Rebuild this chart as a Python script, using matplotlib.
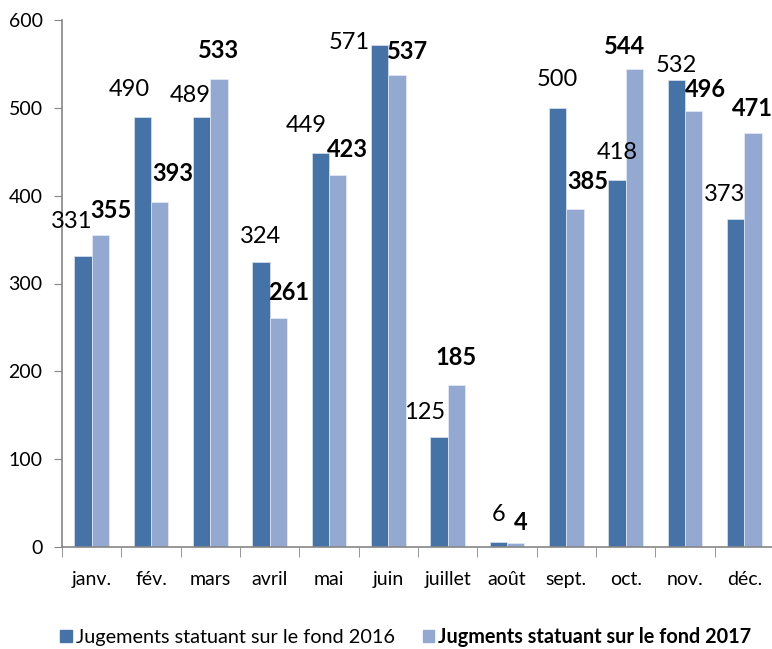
import numpy as np
import matplotlib.pyplot as plt
from matplotlib.patches import Patch

# Data
months = ["janv.", "fév.", "mars", "avril", "mai", "juin",
          "juillet", "août", "sept.", "oct.", "nov.", "déc."]
values_2016 = [331, 490, 489, 324, 449, 571, 125, 6, 500, 418, 532, 373]
values_2017 = [355, 393, 533, 261, 423, 537, 185, 4, 385, 544, 496, 471]
label_2016 = "Jugements statuant sur le fond 2016"
label_2017 = "Jugments statuant sur le fond 2017"
y_ticks = [0, 100, 200, 300, 400, 500, 600]

# Label offsets (pixels) from the top centre of each bar, as placed in the original
offsets_2016 = [(-11, 35), (-13, 27), (-11, 22), (-1, 26), (-14, 27), (-30, 3),
                (-14, 25), (0, 27), (0, 28), (0, 27), (0, 14), (-11, 25)]
offsets_2017 = [(11, 25), (13, 28), (0, 28), (10, 25), (10, 26), (11, 24),
                (0, 27), (5, 21), (13, 27), (-10, 23), (12, 22), (0, 25)]

dark = "#4572a7"
light = "#94a9d2"
axis_grey = "#868686"

plt.rcParams["font.family"] = ["Lato", "DejaVu Sans"]

fig = plt.figure(figsize=(7.72, 6.49), dpi=100)
ax = fig.add_axes([62 / 772, 1 - 547 / 649, 712 / 772, 527 / 649])

x = np.arange(len(months))
w = 0.29
bars16 = ax.bar(x - w / 2, values_2016, w, color=dark, edgecolor="#dde3ee", linewidth=0.5)
bars17 = ax.bar(x + w / 2, values_2017, w, color=light, edgecolor="#e6ebf4", linewidth=0.5)

for b, v, (dx, dy) in zip(bars16, values_2016, offsets_2016):
    ax.annotate(str(v), (b.get_x() + b.get_width() / 2, b.get_height()),
                xytext=(dx, dy), textcoords="offset pixels",
                ha="center", va="center", fontsize=17, color="black")
for b, v, (dx, dy) in zip(bars17, values_2017, offsets_2017):
    ax.annotate(str(v), (b.get_x() + b.get_width() / 2, b.get_height()),
                xytext=(dx, dy), textcoords="offset pixels",
                ha="center", va="center", fontsize=17, fontweight="bold", color="black")

ax.set_xlim(-0.5, len(months) - 0.5)
ax.set_ylim(0, 600)
ax.set_yticks(y_ticks)
ax.tick_params(axis="y", labelsize=14, length=6, color=axis_grey, pad=8)

ax.set_xticks(x)
ax.set_xticklabels(months)
ax.tick_params(axis="x", which="major", length=0, labelsize=14, pad=17)
ax.set_xticks(np.arange(-0.5, len(months)), minor=True)
ax.tick_params(axis="x", which="minor", length=7, color=axis_grey)

for side in ["top", "right"]:
    ax.spines[side].set_visible(False)
for side in ["left", "bottom"]:
    ax.spines[side].set_color(axis_grey)
    ax.spines[side].set_linewidth(1.2)

handles = [Patch(color=dark), Patch(color=light)]
leg = fig.legend(handles, [label_2016, label_2017], ncol=2, loc="center left",
                 bbox_to_anchor=(42 / 772, 1 - 637 / 649), frameon=False,
                 fontsize=14.3, handlelength=0.6, handleheight=0.6,
                 handletextpad=0.2, columnspacing=1.4)
leg.get_texts()[1].set_fontweight("bold")

fig.savefig("out.png", dpi=100)
